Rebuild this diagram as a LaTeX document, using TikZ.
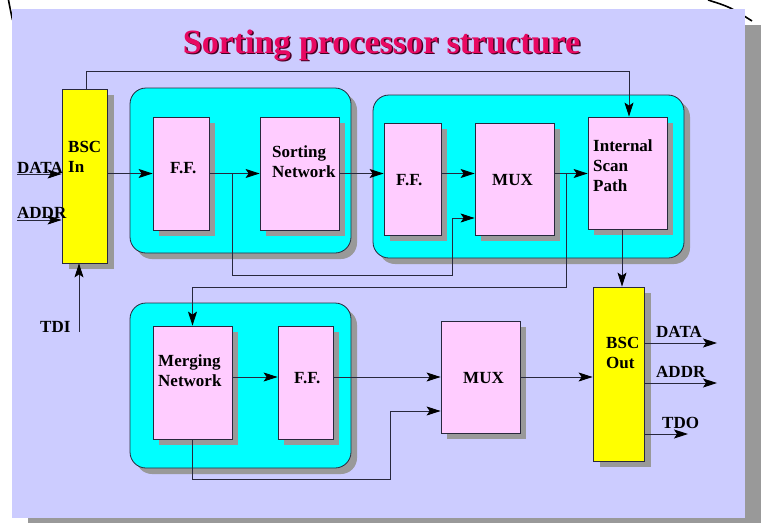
\documentclass[tikz,border=0pt]{standalone}
\usepackage{fontspec}
\setmainfont{Liberation Serif}
\usetikzlibrary{arrows.meta,shadows}
\definecolor{panel}{RGB}{204,204,255}
\definecolor{shgray}{RGB}{153,153,153}
\definecolor{cyanbox}{RGB}{0,255,255}
\definecolor{pinkbox}{RGB}{255,204,255}
\definecolor{yelbox}{RGB}{255,255,0}
\definecolor{linec}{RGB}{40,40,60}
\definecolor{titlec}{RGB}{232,8,98}
\definecolor{titlesh}{RGB}{70,0,35}
\begin{document}
\begin{tikzpicture}[x=1pt,y=-1pt,
  lbl/.style={font=\fontsize{17}{20}\selectfont\bfseries, inner sep=0pt, align=left},
  boxbase/.style={draw=linec, line width=0.8pt, inner sep=0pt},
  pbox/.style={boxbase, fill=pinkbox, drop shadow={shadow xshift=6pt, shadow yshift=-6pt, opacity=1, fill=shgray}},
  ybox/.style={boxbase, fill=yelbox, drop shadow={shadow xshift=7pt, shadow yshift=-6pt, opacity=1, fill=shgray}},
  cbox/.style={boxbase, fill=cyanbox, rounded corners=16pt, drop shadow={shadow xshift=6pt, shadow yshift=-6pt, opacity=1, fill=shgray}},
  conn/.style={draw=linec, line width=0.9pt},
  arr/.style={conn, -{Stealth[length=14pt,width=9pt,inset=3pt,color=black,fill=black]}},
  ttl/.style={font=\fontsize{34}{40}\selectfont\bfseries, inner sep=0pt, anchor=base}
]
\useasboundingbox (0,0) rectangle (765,522);
\clip (0,0) rectangle (765,522);
% page corner lines
\draw[line width=1.6pt] (8.5,0) .. controls (10,8) .. (12.5,20);
\draw[line width=1.6pt] (708,0) .. controls (730,7) .. (752,21);
% panel
\fill[shgray] (28,25) rectangle (761,534);
\fill[panel] (12,9) rectangle (745,518);
% title
\node[ttl, text=titlesh] (titlesh) at (383,54.5) {Sorting processor structure};
\node[ttl, text=titlec] (title) at (381.5,53) {Sorting processor structure};
% group boxes
\node[cbox, minimum width=221pt, minimum height=165pt] (cyan1) at (240.5,170.5) {};
\node[cbox, minimum width=311pt, minimum height=163pt] (cyan2) at (528.5,176.5) {};
\node[cbox, minimum width=221pt, minimum height=165pt] (cyan3) at (240.5,385.5) {};
% blocks
\node[ybox, minimum width=45pt, minimum height=174pt] (bscin) at (84.5,176) {};
\node[pbox, minimum width=56pt, minimum height=113pt] (ff1) at (181,173.5) {};
\node[pbox, minimum width=79pt, minimum height=113pt] (sortnet) at (299.5,173.5) {};
\node[pbox, minimum width=57pt, minimum height=112pt] (ff2) at (412.5,179) {};
\node[pbox, minimum width=79pt, minimum height=112pt] (mux1) at (514.5,179) {};
\node[pbox, minimum width=79pt, minimum height=112pt] (isp) at (627.5,173) {};
\node[pbox, minimum width=79pt, minimum height=113pt] (merge) at (192.5,382.5) {};
\node[pbox, minimum width=55pt, minimum height=113pt] (ff3) at (305.5,382.5) {};
\node[pbox, minimum width=79pt, minimum height=112pt] (mux2) at (480.5,377) {};
\node[ybox, minimum width=51pt, minimum height=174pt] (bscout) at (618.5,374) {};
% labels in blocks
\node[lbl, anchor=west] (bscin-t) at (68,156.5) {BSC\\In};
\node[lbl, anchor=base west] (ff1-t) at (170,173) {F.F.};
\node[lbl, anchor=west] (sortnet-t) at (272,161.3) {Sorting\\Network};
\node[lbl, anchor=base west] (ff2-t) at (396,185) {F.F.};
\node[lbl, anchor=base west] (mux1-t) at (492,185) {MUX};
\node[lbl, anchor=west] (isp-t) at (593,165.3) {Internal\\Scan\\Path};
\node[lbl, anchor=west] (merge-t) at (158,370.3) {Merging\\Network};
\node[lbl, anchor=base west] (ff3-t) at (294,383) {F.F.};
\node[lbl, anchor=base west] (mux2-t) at (463,383) {MUX};
\node[lbl, anchor=west] (bscout-t) at (606,353.3) {BSC\\Out};
% pin labels
\node[lbl, anchor=base west] (datai) at (17,173) {DATA};
\node[lbl, anchor=base west] (addri) at (17,218) {ADDR};
\node[lbl, anchor=base west] (tdi) at (40,332) {TDI};
\node[lbl, anchor=base west] (datao) at (656,337) {DATA};
\node[lbl, anchor=base west] (addro) at (656,377) {ADDR};
\node[lbl, anchor=base west] (tdo) at (662,428) {TDO};
% coordinates
\coordinate (r1) at (0,173.5);
\coordinate (r2) at (0,377);
\coordinate (dataL) at (17,174);
\coordinate (addrL) at (17,220);
\coordinate (tdiS) at (79,332);
\coordinate (j1) at (232,173.5);
\coordinate (k1) at (452,275);
\coordinate (m1) at (0,218);
\coordinate (j2) at (566,173.5);
\coordinate (k2) at (192.5,287);
\coordinate (t0) at (86,71);
\coordinate (t1) at (629,71);
\coordinate (b1) at (622,0);
\coordinate (k3) at (390,479);
\coordinate (m2) at (0,411);
\coordinate (doE) at (717,343);
\coordinate (aoE) at (717,383);
\coordinate (toE) at (688,434);
% connectors
\draw[arr] (dataL) -- (bscin.west |- dataL);
\draw[arr] (addrL) -- (bscin.west |- addrL);
\draw[arr] (tdiS) -- (tdiS |- bscin.south);
\draw[arr] (bscin.east |- r1) -- (ff1.west |- r1);
\draw[arr] (ff1.east |- r1) -- (sortnet.west |- r1);
\draw[arr] (sortnet.east |- r1) -- (ff2.west |- r1);
\draw[arr] (ff2.east |- r1) -- (mux1.west |- r1);
\draw[arr] (mux1.east |- r1) -- (isp.west |- r1);
\draw[arr] (j1) |- (k1) |- (mux1.west |- m1);
\draw[arr] (j2) |- (k2) -- (merge.north);
\draw[arr] (bscin.north -| t0) -- (t0) -- (t1) -- (isp.north -| t1);
\draw[arr] (isp.south -| b1) -- (bscout.north -| b1);
\draw[arr] (merge.east |- r2) -- (ff3.west |- r2);
\draw[arr] (ff3.east |- r2) -- (mux2.west |- r2);
\draw[arr] (mux2.east |- r2) -- (bscout.west |- r2);
\draw[arr] (merge.south) |- (k3) |- (mux2.west |- m2);
\draw[arr] (bscout.east |- doE) -- (doE);
\draw[arr] (bscout.east |- aoE) -- (aoE);
\draw[arr] (bscout.east |- toE) -- (toE);
\end{tikzpicture}
\end{document}
